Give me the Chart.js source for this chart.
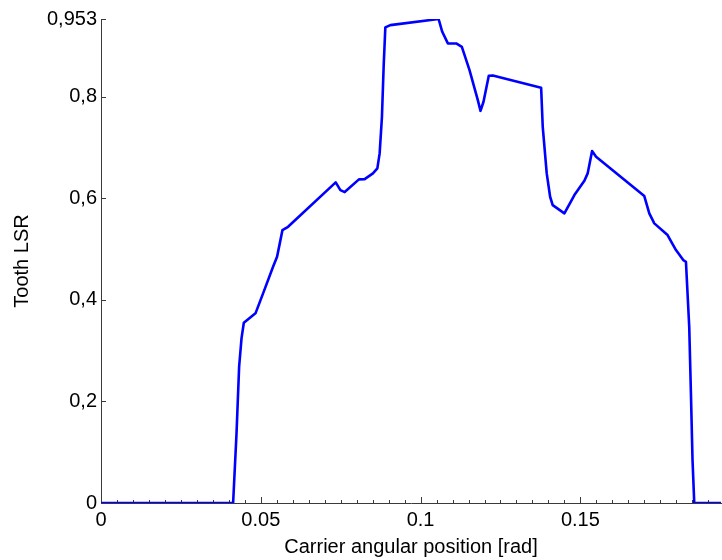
<!DOCTYPE html>
<html>
<head>
<meta charset="utf-8">
<title>Tooth LSR</title>
<script src="https://cdn.jsdelivr.net/npm/chart.js@4/dist/chart.umd.min.js"></script>
<style>
  html, body { margin: 0; padding: 0; background: #ffffff; }
  canvas { display: block; }
</style>
</head>
<body>
<canvas id="c" width="722" height="560"></canvas>
<script>
// Carrier angular position [rad]
const angle = [
  0, 0.04134, 0.04241, 0.04322, 0.04397, 0.04469, 0.04834, 0.05072, 0.05384, 0.05509,
  0.05594, 0.05678, 0.05853, 0.07344, 0.07491, 0.07625, 0.08072, 0.0825, 0.08509, 0.08647,
  0.08719, 0.08791, 0.08844, 0.08897, 0.09053, 0.10563, 0.10678, 0.10853, 0.11116, 0.11291,
  0.11531, 0.11791, 0.11875, 0.11969, 0.12134, 0.12259, 0.13772, 0.13822, 0.13947, 0.14053,
  0.14134, 0.145, 0.14813, 0.15125, 0.15228, 0.15366, 0.15491, 0.17, 0.17156, 0.17313,
  0.17728, 0.17991, 0.18219, 0.18303, 0.18406, 0.18459, 0.18509, 0.18563, 0.194
];

// Tooth load sharing ratio
const lsr = [
  0, 0, 0.1378, 0.2683, 0.3242, 0.3549, 0.3734, 0.4128, 0.4652, 0.4848,
  0.5112, 0.5374, 0.5439, 0.6313, 0.6161, 0.6122, 0.6372, 0.6378, 0.649, 0.6589,
  0.6884, 0.7604, 0.8589, 0.9364, 0.941, 0.953, 0.9278, 0.9049, 0.9049, 0.8982,
  0.8524, 0.7933, 0.7722, 0.79, 0.8411, 0.8419, 0.8175, 0.7407, 0.649, 0.603,
  0.5866, 0.5703, 0.6063, 0.6344, 0.649, 0.6929, 0.6817, 0.6043, 0.5703, 0.5506,
  0.5276, 0.498, 0.4783, 0.475, 0.347, 0.2159, 0.0846, 0, 0
];

const xTickValues = [0, 0.05, 0.1, 0.15];
const xTickLabels = ['0', '0.05', '0.1', '0.15'];
const xMinorStep = 0.005;
const yTickValues = [0, 0.2, 0.4, 0.6, 0.8, 0.953];
const yTickLabels = ['0', '0,2', '0,4', '0,6', '0,8', '0,953'];

const X_MAX = 0.194;
const Y_MAX = 0.953;
const AXIS_COLOR = '#3a3a3a';
const FONT = { family: "'Liberation Sans', Arial, Helvetica, sans-serif", size: 20 };

const points = angle.map((a, i) => ({ x: a, y: lsr[i] }));

// Inward-pointing tick marks, placed through the scales
const innerTicks = {
  id: 'innerTicks',
  beforeDatasetsDraw(chart) {
    const { ctx, chartArea, scales } = chart;
    const xs = scales.x, ys = scales.y;
    ctx.save();
    ctx.strokeStyle = AXIS_COLOR;
    ctx.lineWidth = 1;
    ctx.beginPath();
    const nMinor = Math.floor(X_MAX / xMinorStep + 1e-9);
    for (let i = 0; i <= nMinor; i++) {
      const v = i * xMinorStep;
      const px = Math.round(xs.getPixelForValue(v)) + 0.5;
      const isMajor = xTickValues.some(t => Math.abs(t - v) < 1e-9);
      const len = isMajor ? 6 : 3;
      ctx.moveTo(px, chartArea.bottom);
      ctx.lineTo(px, chartArea.bottom - len);
    }
    yTickValues.forEach(v => {
      const py = Math.round(ys.getPixelForValue(v)) + 0.5;
      ctx.moveTo(chartArea.left, py);
      ctx.lineTo(chartArea.left + 5, py);
    });
    ctx.stroke();
    ctx.restore();
  }
};

new Chart(document.getElementById('c'), {
  type: 'line',
  data: {
    datasets: [{
      data: points,
      borderColor: '#0000ff',
      borderWidth: 2.6,
      pointRadius: 0,
      tension: 0,
      fill: false,
      borderJoinStyle: 'round',
      borderCapStyle: 'round'
    }]
  },
  options: {
    responsive: false,
    animation: false,
    parsing: false,
    layout: { padding: { top: 19, right: 1, left: 0, bottom: 0 } },
    plugins: { legend: { display: false }, tooltip: { enabled: false } },
    scales: {
      x: {
        type: 'linear',
        min: 0,
        max: X_MAX,
        grid: { display: false, drawTicks: false },
        border: { display: true, color: AXIS_COLOR, width: 1 },
        afterBuildTicks: (scale) => { scale.ticks = xTickValues.map(v => ({ value: v })); },
        afterFit: (scale) => { scale.height = 57; },
        ticks: {
          color: '#000',
          font: FONT,
          padding: 5,
          maxRotation: 0,
          autoSkip: false,
          callback: (v) => {
            const i = xTickValues.findIndex(t => Math.abs(t - v) < 1e-9);
            return i >= 0 ? xTickLabels[i] : '';
          }
        },
        title: {
          display: true,
          text: 'Carrier angular position [rad]',
          color: '#000',
          font: FONT,
          padding: { top: 0, bottom: 1 }
        }
      },
      y: {
        type: 'linear',
        min: 0,
        max: Y_MAX,
        grid: { display: false, drawTicks: false },
        border: { display: true, color: AXIS_COLOR, width: 1 },
        afterBuildTicks: (scale) => { scale.ticks = yTickValues.map(v => ({ value: v })); },
        afterFit: (scale) => { scale.width = 101; },
        ticks: {
          color: '#000',
          font: FONT,
          padding: 4,
          autoSkip: false,
          callback: (v) => {
            const i = yTickValues.findIndex(t => Math.abs(t - v) < 1e-9);
            return i >= 0 ? yTickLabels[i] : '';
          }
        },
        title: {
          display: true,
          text: 'Tooth LSR',
          color: '#000',
          font: FONT,
          padding: { top: 10, bottom: 0 }
        }
      }
    }
  },
  plugins: [innerTicks]
});
</script>
</body>
</html>
